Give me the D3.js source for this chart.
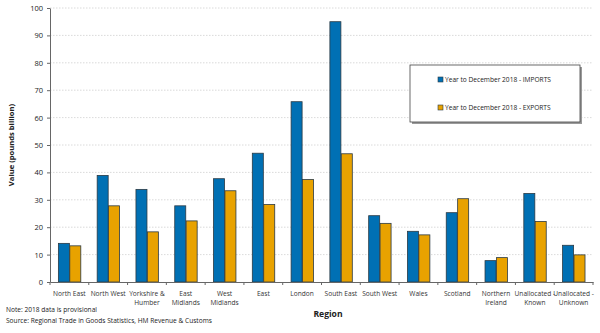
<!DOCTYPE html>
<html>
<head>
<meta charset="utf-8">
<script src="https://cdn.jsdelivr.net/npm/d3@7"></script>
<style>
body{margin:0;background:#fff;}
text{font-family:"Open Sans","Liberation Sans",sans-serif;}
</style>
</head>
<body>
<div id="chart"></div>
<script>
const regions=["North East","North West","Yorkshire & Humber","East Midlands","West Midlands","East","London","South East","South West","Wales","Scotland","Northern Ireland","Unallocated - Known","Unallocated - Unknown"];
// two-line tick labels
const regionLines=[["North East"],["North West"],["Yorkshire &","Humber"],["East","Midlands"],["West","Midlands"],["East"],["London"],["South East"],["South West"],["Wales"],["Scotland"],["Northern","Ireland"],["Unallocated -","Known"],["Unallocated -","Unknown"]];
const imports=[14.1,38.9,33.8,27.8,37.7,47.0,65.8,95.0,24.2,18.5,25.3,7.8,32.3,13.4];
const exports=[13.2,27.8,18.3,22.3,33.3,28.3,37.4,46.8,21.4,17.2,30.4,8.9,22.1,9.9];
const seriesNames=["Year to December 2018 - IMPORTS","Year to December 2018 - EXPORTS"];
const seriesColors=["#0070b4","#e8a200"];
const yTicks=[0,10,20,30,40,50,60,70,80,90,100];

const width=600,height=333;
const margin={left:50,right:7,top:8,bottom:51};

const svg=d3.select("#chart").append("svg")
    .attr("width",width)
    .attr("height",height);

const x=d3.scaleBand()
    .domain(regions)
    .range([margin.left,width-margin.right]);

const x1=d3.scaleBand()
    .domain([0,1])
    .range([0,x.bandwidth()])
    .paddingInner(0)
    .paddingOuter(0.7);

const y=d3.scaleLinear()
    .domain([0,100])
    .range([height-margin.bottom,margin.top]);

// gridlines
svg.append("g")
    .selectAll("line")
    .data(yTicks.filter(d=>d>0))
    .join("line")
    .attr("x1",margin.left)
    .attr("x2",width-margin.right)
    .attr("y1",d=>y(d))
    .attr("y2",d=>y(d))
    .attr("stroke","#d0d0d0")
    .attr("stroke-width",0.8)
    .attr("stroke-dasharray","1.5,1.5");

// bars
const rows=regions.map((r,i)=>({region:r,values:[imports[i],exports[i]]}));
svg.append("g")
    .selectAll("g")
    .data(rows)
    .join("g")
    .attr("transform",d=>`translate(${x(d.region)},0)`)
    .selectAll("rect")
    .data(d=>d.values.map((v,k)=>({k,v})))
    .join("rect")
    .attr("x",d=>x1(d.k)+0.4)
    .attr("y",d=>y(d.v))
    .attr("width",x1.bandwidth()-0.4)
    .attr("height",d=>y(0)-y(d.v))
    .attr("fill",d=>seriesColors[d.k])
    .attr("stroke","#2b3a44")
    .attr("stroke-width",0.8);

// y axis
const yAxis=svg.append("g")
    .attr("transform",`translate(${margin.left},0)`)
    .call(d3.axisLeft(y).tickValues(yTicks).tickSize(3).tickPadding(4).tickSizeOuter(0));
yAxis.select(".domain").attr("stroke","#666");
yAxis.selectAll(".tick line").attr("stroke","#666");
yAxis.selectAll(".tick text")
    .attr("font-size",7.5)
    .attr("fill","#222")
    .attr("font-family","Liberation Sans, Arial, sans-serif");

// x axis
const xAxis=svg.append("g")
    .attr("transform",`translate(0,${y(0)})`)
    .call(d3.axisBottom(x).tickSize(0).tickFormat(""));
xAxis.select(".domain").attr("stroke","#666");

// category separators
svg.append("g")
    .selectAll("line")
    .data(regions.concat(["end"]))
    .join("line")
    .attr("x1",(d,i)=>i<regions.length?x(d):x.range()[1])
    .attr("x2",(d,i)=>i<regions.length?x(d):x.range()[1])
    .attr("y1",y(0))
    .attr("y2",y(0)+3)
    .attr("stroke","#666");

const xLabels=svg.append("g")
    .selectAll("text")
    .data(regions)
    .join("text")
    .attr("x",d=>x(d)+x.bandwidth()/2)
    .attr("y",y(0)+14)
    .attr("text-anchor","middle")
    .attr("font-size",6.6)
    .attr("fill","#333");
xLabels.selectAll("tspan")
    .data((d,i)=>regionLines[i])
    .join("tspan")
    .attr("x",function(){return d3.select(this.parentNode).attr("x");})
    .attr("dy",(d,i)=>i===0?0:8.6)
    .text(d=>d);

// axis titles
svg.append("text")
    .attr("transform",`translate(14,${(y(0)+y(100))/2}) rotate(-90)`)
    .attr("text-anchor","middle")
    .attr("font-size",7.6)
    .attr("font-weight","bold")
    .attr("fill","#222")
    .text("Value (pounds billion)");

svg.append("text")
    .attr("x",328)
    .attr("y",317)
    .attr("text-anchor","middle")
    .attr("font-size",8.6)
    .attr("font-weight","bold")
    .attr("fill","#222")
    .text("Region");

// legend
const legend=svg.append("g").attr("transform","translate(410,65)");
legend.append("rect")
    .attr("x",2).attr("y",2)
    .attr("width",170).attr("height",57)
    .attr("fill","#9a9a9a");
legend.append("rect")
    .attr("width",170).attr("height",57)
    .attr("fill","#fff")
    .attr("stroke","#444")
    .attr("stroke-width",0.8);
const li=legend.selectAll("g.item")
    .data(seriesNames)
    .join("g")
    .attr("class","item")
    .attr("transform",(d,i)=>`translate(28,${15+i*28})`);
li.append("rect")
    .attr("x",0).attr("y",-3)
    .attr("width",5).attr("height",5)
    .attr("fill",(d,i)=>seriesColors[i])
    .attr("stroke","#2b3a44")
    .attr("stroke-width",0.6);
li.append("text")
    .attr("x",7)
    .attr("y",2.3)
    .attr("font-size",6.6)
    .attr("fill","#222")
    .text(d=>d);

// footnotes
svg.append("text")
    .attr("x",6).attr("y",312)
    .attr("font-size",6.6)
    .attr("fill","#222")
    .text("Note:  2018 data is provisional");
svg.append("text")
    .attr("x",6).attr("y",323)
    .attr("font-size",6.6)
    .attr("fill","#222")
    .text("Source:  Regional Trade in Goods Statistics, HM Revenue  & Customs");
</script>
</body>
</html>
